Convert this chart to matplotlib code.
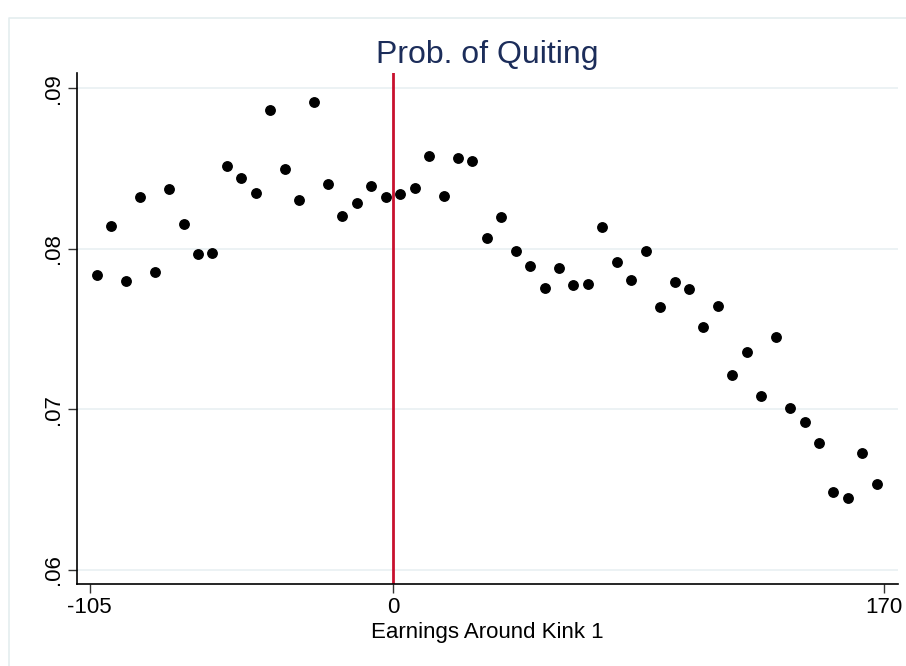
import numpy as np
import matplotlib.pyplot as plt
from matplotlib.lines import Line2D

plt.rcParams['font.family'] = ['Liberation Sans', 'DejaVu Sans']

# bin midpoints, earnings around kink 1
earn = np.arange(-102.5, 170, 5)
# share quitting in each bin
quit_prob = [0.07838, 0.08145, 0.07797, 0.08324, 0.07857, 0.08375, 0.08157, 0.07967,
             0.07977, 0.08515, 0.08442, 0.08347, 0.08863, 0.08496, 0.08307, 0.08913,
             0.08406, 0.08205, 0.08286, 0.08392, 0.08325, 0.08342, 0.08381, 0.08577,
             0.08328, 0.08564, 0.08549, 0.08068, 0.08197, 0.07989, 0.07894, 0.07755,
             0.07882, 0.07774, 0.07782, 0.08139, 0.07921, 0.07803, 0.07988, 0.07639,
             0.07795, 0.07753, 0.07516, 0.07641, 0.07212, 0.07359, 0.07085, 0.07452,
             0.07009, 0.06919, 0.06791, 0.06486, 0.06449, 0.06726, 0.06536]
xticks = [-105, 0, 170]
yticks = [0.06, 0.07, 0.08, 0.09]
ylabels = ['.06', '.07', '.08', '.09']
kink = 0

fig = plt.figure(figsize=(9.06, 6.66), dpi=100)
# stata-like outer region border (only top and left edges show)
bx, by = 8.5/906, 1 - 17.5/666
fig.add_artist(Line2D([bx, bx, 1.0], [0, by, by], transform=fig.transFigure,
                      color='#e4edef', lw=1.2))
ax = fig.add_axes([77/906, 82/666, (898-77)/906, (593-82)/666])

for y in yticks:
    ax.axhline(y, color='#eaf1f3', lw=1.3, zorder=0)
ax.axvline(kink, color='#c8102e', lw=2, zorder=1)
ax.plot(earn, quit_prob, 'o', color='black', ms=6.8, zorder=2)

ax.set_xlim(-109.4, 174.85)
ax.set_ylim(0.05913, 0.09095)
ax.set_xticks(xticks)
ax.set_xticklabels([str(t) for t in xticks])
ax.set_yticks(yticks)
ax.set_yticklabels(ylabels, rotation=90, va='center')
ax.tick_params(labelsize=16, length=6.5, width=1, color='#333333', pad=3)
for s in ['top', 'right']:
    ax.spines[s].set_visible(False)
for s in ['left', 'bottom']:
    ax.spines[s].set_linewidth(1.2)

ax.set_xlabel('Earnings Around Kink 1', fontsize=16, labelpad=3)
ax.set_title('Prob. of Quiting', fontsize=23, color='#1c2d5a', pad=7.5)

fig.savefig('out.png', dpi=100)
